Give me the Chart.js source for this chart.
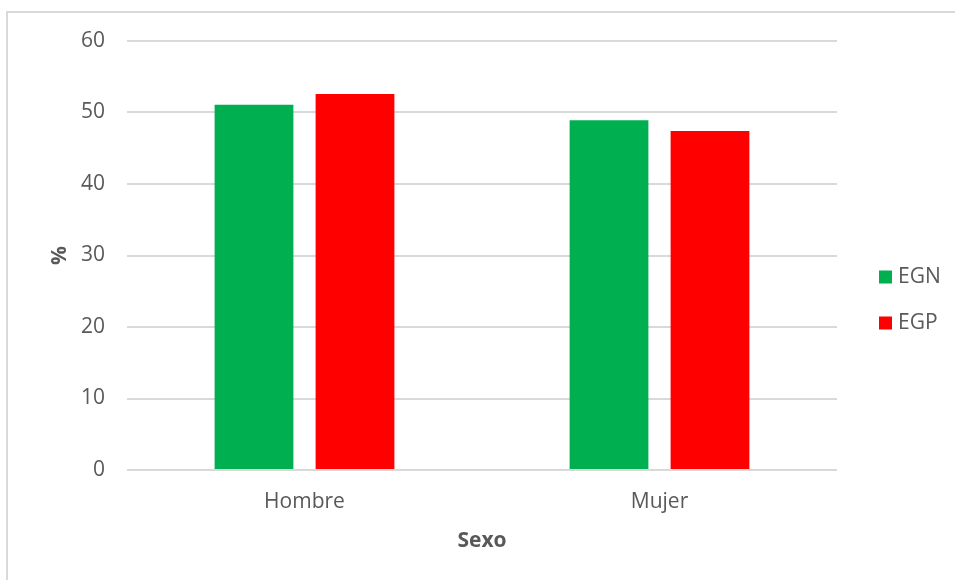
<!DOCTYPE html>
<html>
<head>
<meta charset="utf-8">
<script src="https://cdn.jsdelivr.net/npm/chart.js@4.4.1/dist/chart.umd.min.js"></script>
<style>
  html, body { margin: 0; padding: 0; background: #ffffff; }
  #wrap { position: relative; width: 955px; height: 580px; overflow: hidden; }
  #frame { position: absolute; left: 6px; top: 11px; width: 1000px; height: 600px;
           border-left: 2px solid #d9d9d9; border-top: 2px solid #d9d9d9; box-sizing: border-box; }
  #chart { position: absolute; left: 0; top: 0; }
</style>
</head>
<body>
<div id="wrap">
  <div id="frame"></div>
  <canvas id="chart" width="955" height="580"></canvas>
</div>
<script>
// Distribución por sexo (%)
const categories = ['Hombre', 'Mujer'];
const seriesNames = ['EGN', 'EGP'];
const egnValues = [51.1, 48.9];
const egpValues = [52.6, 47.4];
const yTicks = [0, 10, 20, 30, 40, 50, 60];

const FONT = "'Open Sans', 'Liberation Sans', sans-serif";
const TEXT = '#595959';
const GRID = '#d9d9d9';

// Vertical legend drawn to the right of the plot area
const sideLegend = {
  id: 'sideLegend',
  afterDraw(chart) {
    const ctx = chart.ctx;
    const x0 = 879, y0 = 277, step = 46, box = 13;
    ctx.save();
    ctx.font = '21px ' + FONT;
    ctx.textBaseline = 'middle';
    ctx.textAlign = 'left';
    chart.data.datasets.forEach((ds, i) => {
      const y = y0 + i * step;
      ctx.fillStyle = ds.backgroundColor;
      ctx.fillRect(x0, y - box / 2, box, box);
      ctx.fillStyle = TEXT;
      ctx.fillText(ds.label, x0 + 19, y);
    });
    ctx.restore();
  }
};

new Chart(document.getElementById('chart'), {
  type: 'bar',
  data: {
    labels: categories,
    datasets: [
      { label: seriesNames[0], data: egnValues, backgroundColor: '#00b050' },
      { label: seriesNames[1], data: egpValues, backgroundColor: '#ff0000' }
    ]
  },
  options: {
    responsive: false,
    animation: false,
    devicePixelRatio: 1,
    layout: { padding: { top: 41, right: 118, bottom: 0, left: 0 } },
    datasets: { bar: { categoryPercentage: 0.569, barPercentage: 0.78 } },
    plugins: { legend: { display: false }, tooltip: { enabled: false } },
    scales: {
      x: {
        grid: { display: false },
        border: { display: false },
        ticks: { color: TEXT, font: { family: FONT, size: 21 }, padding: 11 },
        title: { display: true, text: 'Sexo', color: TEXT,
                 font: { family: FONT, size: 21, weight: 'bold' },
                 padding: { top: 0, bottom: 26 } },
        afterFit(scale) { scale.height = 110; }
      },
      y: {
        min: 0, max: 60,
        afterBuildTicks(scale) { scale.ticks = yTicks.map(v => ({ value: v })); },
        grid: { color: GRID, lineWidth: 2, drawTicks: false },
        border: { display: false },
        ticks: { color: TEXT, font: { family: FONT, size: 21 }, padding: 22 },
        title: { display: true, text: '%', color: TEXT,
                 font: { family: FONT, size: 21, weight: 'bold' },
                 padding: { top: 47, bottom: 0 } },
        afterFit(scale) { scale.width = 127; }
      }
    }
  },
  plugins: [sideLegend]
});
</script>
</body>
</html>
